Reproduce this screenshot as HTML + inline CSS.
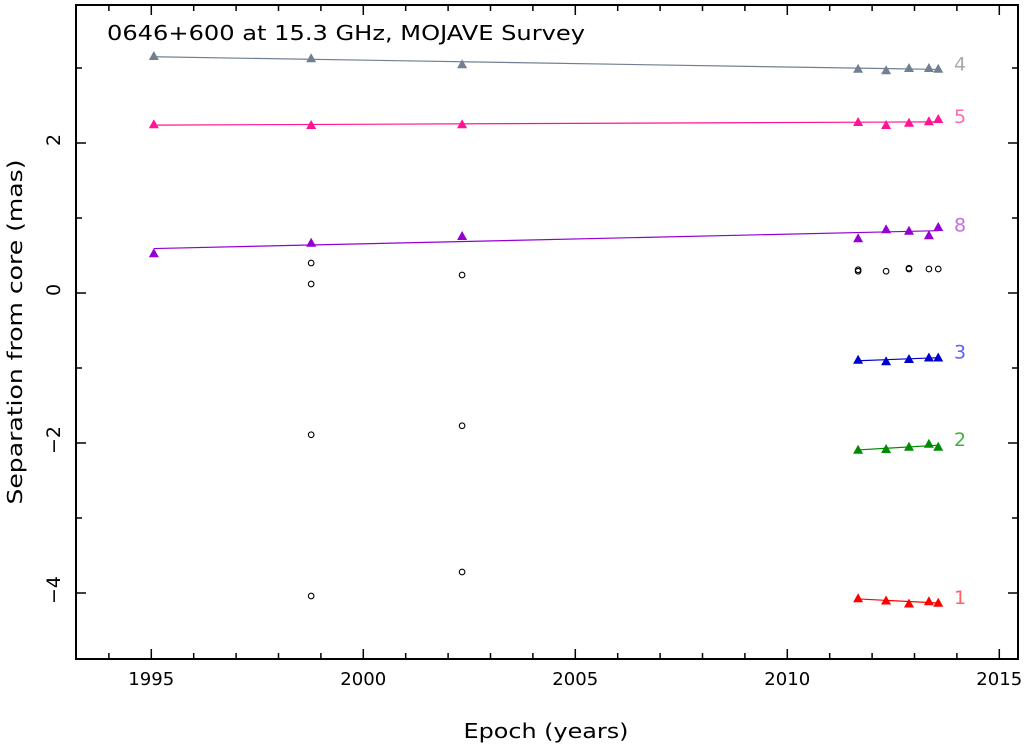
<!DOCTYPE html>
<html><head><meta charset="utf-8"><style>
body{margin:0;background:#fff;}
svg{display:block;font-family:"DejaVu Sans","Liberation Sans",sans-serif;}
</style></head><body>
<svg id="c" width="1027" height="745"></svg>
<script>
const epochs=[1995.06,1998.77,2002.33,2011.67,2012.33,2012.87,2013.34,2013.56];
const comp4=[3.16,3.13,3.05,2.99,2.97,3.0,3.0,2.99];
const comp5=[2.25,2.24,2.25,2.28,2.24,2.27,2.29,2.32];
const comp8=[0.53,0.67,0.76,0.73,0.85,0.83,0.77,0.88];
const epochsLate=[2011.67,2012.33,2012.87,2013.34,2013.56];
const comp3=[-0.89,-0.91,-0.88,-0.86,-0.86];
const comp2=[-2.09,-2.08,-2.05,-2.01,-2.05];
const comp1=[-4.07,-4.10,-4.14,-4.11,-4.13];
const otherEpochs=[1998.77,1998.77,1998.77,1998.77,2002.33,2002.33,2002.33,2011.67,2011.67,2012.33,2012.87,2012.87,2013.34,2013.56];
const otherVals=[0.40,0.12,-1.89,-4.04,0.24,-1.77,-3.72,0.31,0.29,0.29,0.33,0.32,0.32,0.32];
const xTicks=[1995,2000,2005,2010,2015];
const yTicks=[-4,-2,0,2];

const NS="http://www.w3.org/2000/svg";
const svg=document.getElementById('c');
const L=76,R=1018,T=5,B=659;
const X=v=>151.3+(v-1995)*42.4;
const Y=v=>293-v*75;
function mk(tag,attrs,parent){const e=document.createElementNS(NS,tag);for(const k in attrs)e.setAttribute(k,attrs[k]);(parent||svg).appendChild(e);return e;}

const frame=mk('rect',{x:L,y:T,width:R-L,height:B-T,fill:'none',stroke:'#000','stroke-width':2});



for(let yr=1994;yr<=2015;yr++){const x=X(yr);if(x<L||x>R)continue;const maj=yr%5===0;const len=maj?10:6;
 const t1=mk('line',{x1:x,y1:B,x2:x,y2:B-len,stroke:'#000','stroke-width':1.5});
 
 
 const t2=mk('line',{x1:x,y1:T,x2:x,y2:T+len,stroke:'#000','stroke-width':1.5});
 
 }
xTicks.forEach(v=>{const t=mk('text',{x:X(v),y:685,'text-anchor':'middle','font-size':18,textLength:46,lengthAdjust:'spacingAndGlyphs'});t.textContent=v;
 
 });
for(let v=-4;v<=3;v++){const y=Y(v);const maj=v%2===0;const len=maj?10:6;
 const t1=mk('line',{x1:L,y1:y,x2:L+len,y2:y,stroke:'#000','stroke-width':1.5});
 
 
 const t2=mk('line',{x1:R,y1:y,x2:R-len,y2:y,stroke:'#000','stroke-width':1.5});
 
 }
yTicks.forEach(v=>{const t=mk('text',{transform:`translate(60,${Y(v)-3}) rotate(-90)`,'text-anchor':'middle','font-size':19});t.textContent=v<0?'\u2212'+(-v):v;
 
 });

const xl=mk('text',{x:546,y:738,'text-anchor':'middle','font-size':20,textLength:165,lengthAdjust:'spacingAndGlyphs'});xl.textContent='Epoch (years)';


const yl=mk('text',{transform:'translate(22,332) rotate(-90)','text-anchor':'middle','font-size':20,textLength:345,lengthAdjust:'spacingAndGlyphs'});yl.textContent='Separation from core (mas)';


const ti=mk('text',{x:107,y:40,'font-size':20,textLength:478,lengthAdjust:'spacingAndGlyphs'});ti.textContent='0646+600 at 15.3 GHz, MOJAVE Survey';



function fit(xs,ys){const n=xs.length;const mx=xs.reduce((a,b)=>a+b)/n,my=ys.reduce((a,b)=>a+b)/n;let sxy=0,sxx=0;xs.forEach((x,i)=>{sxy+=(x-mx)*(ys[i]-my);sxx+=(x-mx)**2;});const b=sxy/sxx;return x=>my+b*(x-mx);}
const series=[['4',epochs,comp4,'#708090','#aaaaaa'],['5',epochs,comp5,'#ff1493','#ff69b4'],['8',epochs,comp8,'#9400d3','#c070e0'],['3',epochsLate,comp3,'#0000cd','#6060ff'],['2',epochsLate,comp2,'#008b00','#40b040'],['1',epochsLate,comp1,'#ff0000','#ff6060']];
series.forEach(([name,xs,ys,col,lc])=>{
 const f=fit(xs,ys);const x0=xs[0],x1=xs[xs.length-1];
 const ln=mk('line',{x1:X(x0),y1:Y(f(x0)),x2:X(x1),y2:Y(f(x1)),stroke:col,'stroke-width':1.2});
 
 
 xs.forEach((x,i)=>{const cx=X(x),cy=Y(ys[i]);
  const p=mk('polygon',{points:`${cx-5},${cy+4} ${cx+5},${cy+4} ${cx},${cy-5}`,fill:col});
  
  });
 const lab=mk('text',{x:954,y:Y(f(x1))+1,'font-size':19,fill:lc});lab.textContent=name;
 
 
});
otherEpochs.forEach((x,i)=>{const c=mk('circle',{cx:X(x),cy:Y(otherVals[i]),r:2.8,fill:'none',stroke:'#000','stroke-width':1.1});
 
 });
</script>
</body></html>
